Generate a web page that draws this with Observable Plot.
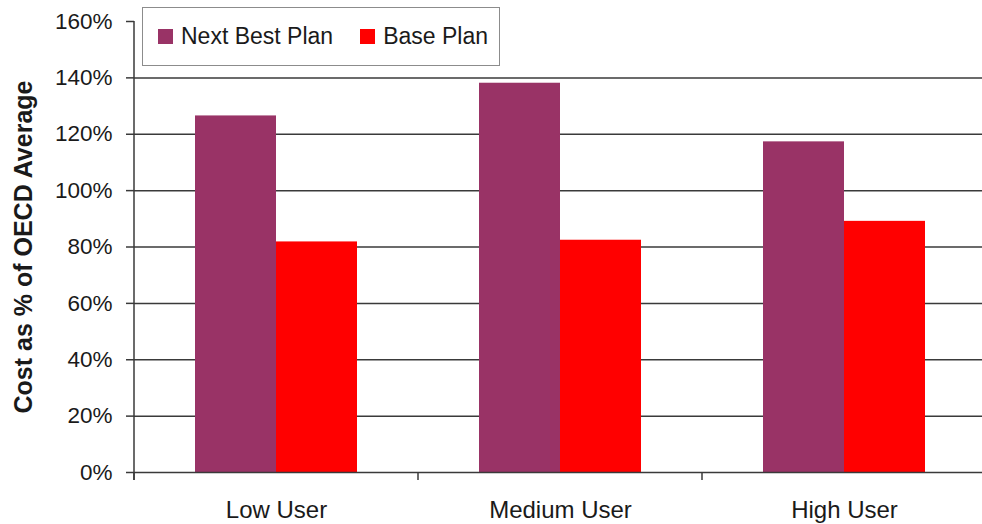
<!DOCTYPE html>
<html>
<head>
<meta charset="utf-8">
<script src="https://cdn.jsdelivr.net/npm/d3@7"></script>
<script src="https://cdn.jsdelivr.net/npm/@observablehq/plot@0.6"></script>
<style>
  html, body { margin: 0; padding: 0; background: #fff; }
  #wrap { position: relative; width: 982px; height: 524px; overflow: hidden; font-family: "Liberation Sans", Arial, sans-serif; }
  #wrap svg { max-width: none !important; display: block; }
  #legend {
    position: absolute; left: 142px; top: 7px; width: 356px; height: 57px;
    background: #fff; border: 1px solid #8c8c8c; box-sizing: content-box;
    display: flex; align-items: center; font-size: 23px; color: #1a1a1a;
  }
  #legend .item { display: flex; align-items: center; }
  #legend .sw { width: 15px; height: 15px; margin-right: 8px; }
</style>
</head>
<body>
<div id="wrap"></div>
<script>
// User profiles along the bottom, and the two plans compared within each
const categories = ["Low User", "Medium User", "High User"];
const series = ["Next Best Plan", "Base Plan"];
const nextBestPlan = [1.265, 1.381, 1.173];
const basePlan = [0.818, 0.824, 0.891];
const yTicks = [0, 0.2, 0.4, 0.6, 0.8, 1.0, 1.2, 1.4, 1.6];
const seriesColors = ["#993366", "#ff0000"];

const rows = categories.flatMap((c, i) => [
  {category: c, plan: series[0], value: nextBestPlan[i]},
  {category: c, plan: series[1], value: basePlan[i]}
]);

const font = "'Liberation Sans', Arial, sans-serif";
const ink = "#1a1a1a";
const lineColor = "#3a3a3a";

// The plot runs slightly past the right edge of the page; the wrapper clips it
const chart = Plot.plot({
  width: 987,
  height: 524,
  marginLeft: 133,
  marginRight: 0,
  marginTop: 21,
  marginBottom: 52,
  style: {fontFamily: font, color: ink, background: "#fff"},
  fx: {domain: categories, padding: 0, label: null},
  x: {domain: series, paddingInner: 0, paddingOuter: 0.736, axis: null},
  y: {domain: [0, 1.6], axis: null},
  color: {domain: series, range: seriesColors},
  marks: [
    Plot.gridY(yTicks.filter(v => v > 0 && v < 1.6), {stroke: lineColor, strokeOpacity: 1, strokeWidth: 1.5}),
    Plot.barY(rows, {fx: "category", x: "plan", y: "value", fill: "plan"}),
    Plot.ruleY([0], {stroke: lineColor, strokeWidth: 1.5}),
    Plot.axisY({
      ticks: yTicks,
      tickFormat: d3.format(".0%"),
      tickSize: 8,
      tickPadding: 14,
      fontSize: 22.5,
      stroke: lineColor,
      strokeWidth: 1.5,
      label: "Cost as % of OECD Average",
      labelAnchor: "center",
      labelArrow: "none",
      labelOffset: 120
    }),
    Plot.axisFx({anchor: "bottom", tickSize: 0, tickPadding: 28, fontSize: 24, label: null})
  ]
});
chart.style.maxWidth = "none";

// Bold axis title
d3.select(chart).selectAll("g[aria-label='y-axis label'] text")
  .attr("font-weight", "bold").attr("font-size", 25);

const fx = chart.scale("fx");
const y = chart.scale("y");
const y0 = y.apply(0);
const yTop = y.apply(1.6);
const overlay = d3.select(chart).append("g")
  .attr("stroke", lineColor).attr("stroke-width", 1.5);

// Vertical axis line along the left of the plot
overlay.append("line")
  .attr("x1", fx.apply(categories[0])).attr("x2", fx.apply(categories[0]))
  .attr("y1", yTop).attr("y2", y0 + 8);

// Category separators on the bottom axis, at band edges
const edges = categories.map(c => fx.apply(c)).concat([fx.apply(categories[categories.length - 1]) + fx.bandwidth]);
overlay.selectAll("line.edge").data(edges).join("line")
  .attr("class", "edge")
  .attr("x1", d => d).attr("x2", d => d)
  .attr("y1", y0).attr("y2", y0 + 8);

const wrap = document.getElementById("wrap");
wrap.appendChild(chart);

// Legend box drawn over the top of the plot area
const legend = document.createElement("div");
legend.id = "legend";
series.forEach((s, i) => {
  const item = document.createElement("div");
  item.className = "item";
  item.style.marginLeft = i === 0 ? "15px" : "27px";
  const sw = document.createElement("div");
  sw.className = "sw";
  sw.style.background = seriesColors[i];
  const label = document.createElement("span");
  label.textContent = s;
  item.appendChild(sw);
  item.appendChild(label);
  legend.appendChild(item);
});
wrap.appendChild(legend);
</script>
</body>
</html>
